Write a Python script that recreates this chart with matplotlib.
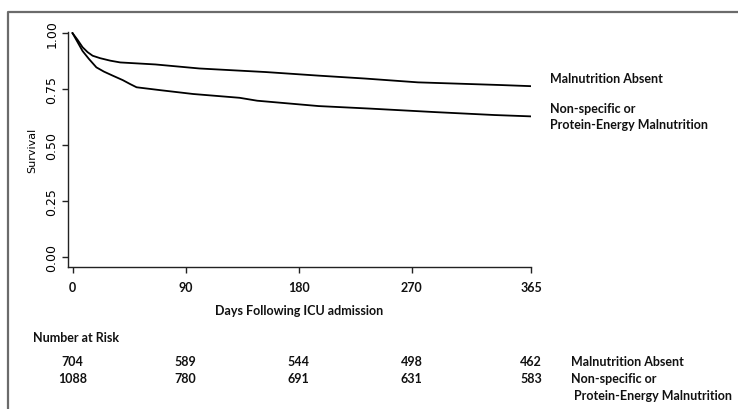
import matplotlib.pyplot as plt
from matplotlib.lines import Line2D
from matplotlib.transforms import blended_transform_factory

# survival curves
days_absent = [0, 4, 8, 12, 16, 22, 30, 38, 66, 101, 154, 196, 233, 275, 341, 365]
surv_absent = [1.0, 0.97, 0.937, 0.915, 0.899, 0.888, 0.877, 0.869, 0.86, 0.842, 0.826, 0.81, 0.797, 0.78, 0.768, 0.763]

days_mal = [0, 4, 8, 13, 19, 25, 32, 40, 46, 51, 70, 96, 133, 147, 196, 236, 289, 336, 365]
surv_mal = [1.0, 0.96, 0.92, 0.885, 0.847, 0.828, 0.81, 0.79, 0.772, 0.758, 0.745, 0.728, 0.711, 0.698, 0.674, 0.663, 0.647, 0.634, 0.628]

x_ticks = [0, 90, 180, 270, 365]
y_ticks = [0.0, 0.25, 0.5, 0.75, 1.0]
y_tick_labels = ["0.00", "0.25", "0.50", "0.75", "1.00"]

risk_absent = [704, 589, 544, 498, 462]
risk_mal = [1088, 780, 691, 631, 583]
group_absent = "Malnutrition Absent"
group_mal = "Non-specific or\nProtein-Energy Malnutrition"

BOLD = dict(family="Lato", fontweight="bold", fontsize=9, color="#111111")

fig = plt.figure(figsize=(7.38, 4.10), dpi=100)
ax = fig.add_axes([68 / 738, 142 / 410, 463 / 738, 235 / 410])

ax.plot(days_absent, surv_absent, color="black", lw=1.3)
ax.plot(days_mal, surv_mal, color="black", lw=1.3)

ax.set_xlim(-3.6, 365)
ax.set_ylim(-0.045, 1.005)
ax.spines["top"].set_visible(False)
ax.spines["right"].set_visible(False)
for s in ("left", "bottom"):
    ax.spines[s].set_color("#222222")
    ax.spines[s].set_linewidth(1.0)

ax.set_xticks(x_ticks)
ax.set_xticklabels([str(t) for t in x_ticks], **BOLD)
ax.set_yticks(y_ticks)
ax.set_yticklabels(y_tick_labels, rotation=90, va="center", family="DejaVu Sans", fontsize=9)
ax.tick_params(axis="both", length=4, width=1, color="#222222")
ax.tick_params(axis="x", pad=6)
ax.tick_params(axis="y", pad=3)
ax.set_ylabel("Survival", family="DejaVu Sans", fontsize=8, labelpad=6)
ax.set_xlabel("Days Following ICU admission", labelpad=8, **BOLD)

# labels to the right of the curves
ax.text(1.04, 0.80, group_absent, transform=ax.get_yaxis_transform(), va="center", ha="left",
        clip_on=False, **BOLD)
ax.text(1.04, 0.63, group_mal, transform=ax.get_yaxis_transform(), va="center", ha="left",
        linespacing=1.45, clip_on=False, **BOLD)

# number at risk table
tr = blended_transform_factory(ax.transData, fig.transFigure)
fig.text(33 / 738, 1 - 338 / 410, "Number at Risk", va="center", ha="left", **BOLD)
for d, a, m in zip(x_ticks, risk_absent, risk_mal):
    ax.text(d, 1 - 362 / 410, str(a), transform=tr, ha="center", va="center", clip_on=False, **BOLD)
    ax.text(d, 1 - 379 / 410, str(m), transform=tr, ha="center", va="center", clip_on=False, **BOLD)
fig.text(571 / 738, 1 - 362 / 410, group_absent, va="center", ha="left", **BOLD)
fig.text(571 / 738, 1 - 379 / 410, "Non-specific or", va="center", ha="left", **BOLD)
fig.text(574 / 738, 1 - 396 / 410, "Protein-Energy Malnutrition", va="center", ha="left", **BOLD)

# outer frame (top and left edges)
fig.add_artist(Line2D([8 / 738, 8 / 738, 1.0], [0.0, 1 - 13 / 410, 1 - 13 / 410],
                      transform=fig.transFigure, color="#6b6b6b", lw=1.6))

fig.savefig("out.png", dpi=100)
